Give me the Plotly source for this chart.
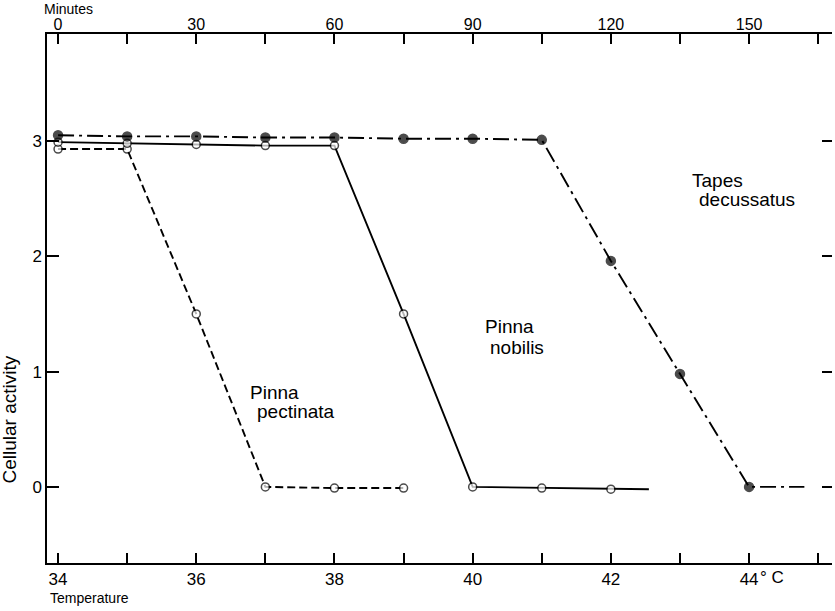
import plotly.graph_objects as go

# Axis ticks and labels
temp_ticks = [34, 35, 36, 37, 38, 39, 40, 41, 42, 43, 44, 45]
temp_labels = ["34", "", "36", "", "38", "", "40", "", "42", "", "44", ""]
minute_labels = ["0", "", "30", "", "60", "", "90", "", "120", "", "150", ""]
activity_ticks = [0, 1, 2, 3]
activity_labels = ["0", "1", "2", "3"]

# Tapes decussatus (filled circles, dash-dot); last point is the unmarked tail
tapes_temp = [34, 35, 36, 37, 38, 39, 40, 41, 42, 43, 44, 44.8]
tapes_act = [3.05, 3.04, 3.04, 3.03, 3.03, 3.02, 3.02, 3.01, 1.96, 0.98, 0.0, 0.0]
tapes_marked = [1, 1, 1, 1, 1, 1, 1, 1, 1, 1, 1, 0]

# Pinna nobilis (open circles, solid)
nobilis_temp = [34, 35, 36, 37, 38, 39, 40, 41, 42, 42.55]
nobilis_act = [2.99, 2.98, 2.97, 2.96, 2.96, 1.5, 0.0, -0.01, -0.02, -0.02]
nobilis_marked = [1, 1, 1, 1, 1, 1, 1, 1, 1, 0]

# Pinna pectinata (open circles, dashed)
pectinata_temp = [34, 35, 36, 37, 38, 39]
pectinata_act = [2.93, 2.93, 1.5, 0.0, -0.01, -0.01]
pectinata_marked = [1, 1, 1, 1, 1, 1]

FONT = "Liberation Sans, Arial, sans-serif"
X_RANGE = [33.84, 45.2]
Y_RANGE = [-0.66, 3.928]

fig = go.Figure()


def add_series(xs, ys, marked, dash, filled, size):
    fig.add_trace(go.Scatter(
        x=xs, y=ys, mode="lines+markers",
        line=dict(color="black", width=1.9, dash=dash),
        marker=dict(
            size=[size if m else 0 for m in marked],
            color="black" if filled else "white",
            line=dict(color="black", width=1.5),
        ),
        showlegend=False, hoverinfo="skip",
    ))


add_series(pectinata_temp, pectinata_act, pectinata_marked, "8px,4px", False, 8)
add_series(nobilis_temp, nobilis_act, nobilis_marked, "solid", False, 8)
add_series(tapes_temp, tapes_act, tapes_marked, "16px,5px,3px,5px", True, 9)

# empty traces so the minutes scale (top) and the right-hand ticks are drawn
fig.add_trace(go.Scatter(x=temp_ticks, y=[None] * len(temp_ticks),
                         xaxis="x2", yaxis="y2", mode="lines",
                         showlegend=False, hoverinfo="skip"))

tick_font = dict(family=FONT, size=17, color="black")

fig.update_layout(
    width=835, height=611,
    margin=dict(l=47, r=3, t=34, b=48),
    paper_bgcolor="white", plot_bgcolor="white",
    font=dict(family=FONT, size=16, color="black"),
    xaxis=dict(range=X_RANGE, tickvals=temp_ticks, ticktext=temp_labels,
               ticks="inside", ticklen=10, tickwidth=1.5, tickcolor="black",
               mirror="ticks", showline=True, linecolor="black", linewidth=1.5,
               showgrid=False, zeroline=False, tickfont=tick_font),
    xaxis2=dict(range=X_RANGE, overlaying="x", side="top",
                tickvals=temp_ticks, ticktext=minute_labels, ticks="",
                showline=False, showgrid=False, zeroline=False,
                tickfont=dict(family=FONT, size=16, color="black")),
    yaxis=dict(range=Y_RANGE, tickvals=activity_ticks, ticktext=activity_labels,
               ticks="inside", ticklen=12, tickwidth=1.5, tickcolor="black",
               showline=True, linecolor="black", linewidth=1.5,
               showgrid=False, zeroline=False, tickfont=tick_font),
    yaxis2=dict(range=Y_RANGE, overlaying="y", side="right",
                tickvals=activity_ticks, showticklabels=False,
                ticks="inside", ticklen=10, tickwidth=2, tickcolor="black",
                showline=False, showgrid=False, zeroline=False),
)

label_font = dict(family=FONT, size=19, color="black")
small_font = dict(family=FONT, size=14, color="black")

annotations = [
    # axis titles
    dict(text="Minutes", xref="paper", yref="paper", x=-0.006, y=1,
         xanchor="left", yanchor="top", yshift=35, font=small_font),
    dict(text="Temperature", xref="paper", yref="paper", x=0.001, y=0,
         xanchor="left", yanchor="top", yshift=-25, font=small_font),
    dict(text="° C", xref="x", yref="paper", x=44, y=0,
         xanchor="left", yanchor="top", xshift=9, yshift=-3,
         font=dict(family=FONT, size=17, color="black")),
    dict(text="Cellular activity", xref="paper", yref="y", x=0, y=0.58,
         xanchor="right", yanchor="middle", xshift=-25, textangle=-90,
         font=dict(family=FONT, size=19, color="black")),
    # species names
    dict(text="Pinna", x=36.75, y=0.82, font=label_font),
    dict(text="pectinata", x=36.85, y=0.65, font=label_font),
    dict(text="Pinna", x=40.15, y=1.39, font=label_font),
    dict(text="nobilis", x=40.22, y=1.21, font=label_font),
    dict(text="Tapes", x=43.15, y=2.66, font=label_font),
    dict(text="decussatus", x=43.25, y=2.49, font=label_font),
]
for a in annotations:
    a.setdefault("xref", "x")
    a.setdefault("yref", "y")
    a.setdefault("xanchor", "left")
    a.setdefault("yanchor", "middle")
    a["showarrow"] = False
    fig.add_annotation(**a)

fig.write_html("out.html")
